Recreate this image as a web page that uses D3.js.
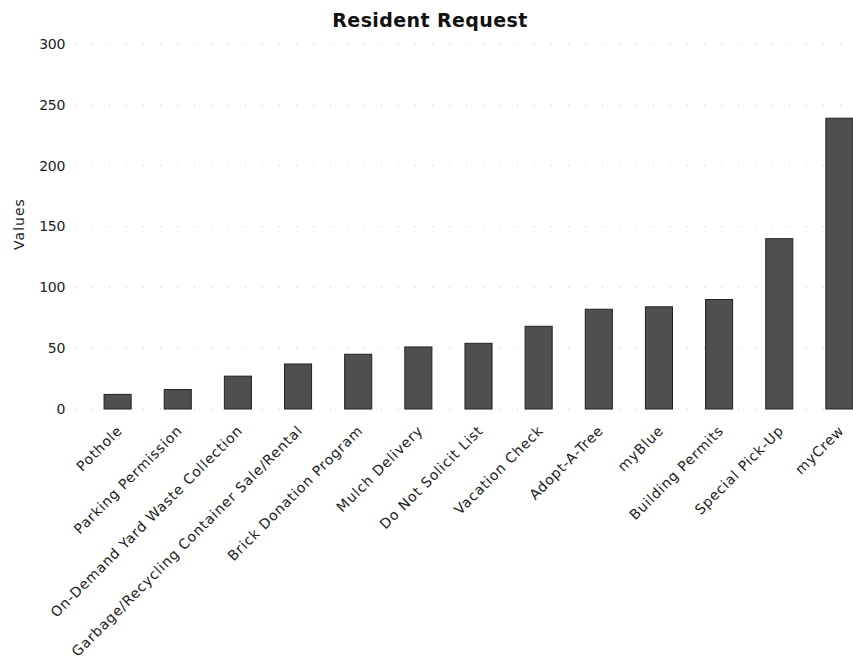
<!DOCTYPE html>
<html>
<head>
<meta charset="utf-8">
<script src="https://cdn.jsdelivr.net/npm/d3@7"></script>
<style>
  body { margin: 0; background: #fff; }
  svg { display: block; }
</style>
</head>
<body>
<svg id="chart" width="853" height="660"></svg>
<script>
const categories = ["Pothole", "Parking Permission", "On-Demand Yard Waste Collection",
  "Garbage/Recycling Container Sale/Rental", "Brick Donation Program", "Mulch Delivery",
  "Do Not Solicit List", "Vacation Check", "Adopt-A-Tree", "myBlue", "Building Permits",
  "Special Pick-Up", "myCrew"];
const values = [12, 16, 27, 37, 45, 51, 54, 68, 82, 84, 90, 140, 239];
const yTicks = [0, 50, 100, 150, 200, 250, 300];
const title = "Resident Request";
const yLabel = "Values";

const svg = d3.select("#chart");
const font = "DejaVu Sans, sans-serif";

const x = d3.scaleBand().domain(categories).range([80, 877]).paddingInner(0.55).paddingOuter(0.4);
const y = d3.scaleLinear().domain([0, 300]).range([409, 44]);

// grid
svg.append("g").selectAll("line").data(yTicks).join("line")
  .attr("x1", 75).attr("x2", 853)
  .attr("y1", d => y(d)).attr("y2", d => y(d))
  .attr("stroke", "#c8c8c8").attr("stroke-width", 1).attr("stroke-dasharray", "1 16");

// bars
svg.append("g").selectAll("rect").data(values).join("rect")
  .attr("x", (d, i) => x(categories[i]))
  .attr("width", x.bandwidth())
  .attr("y", d => y(d))
  .attr("height", d => y(0) - y(d))
  .attr("fill", "#4f4f4f")
  .attr("stroke", "#222").attr("stroke-width", 1);

// y axis
const yAxis = svg.append("g").attr("transform", "translate(68,0)")
  .call(d3.axisLeft(y).tickValues(yTicks).tickSize(0).tickPadding(3));
yAxis.select(".domain").remove();
yAxis.selectAll("text").attr("font-family", font).attr("font-size", 14)
  .attr("letter-spacing", "-0.3px").attr("fill", "#222");

// x axis labels
const xAxis = svg.append("g").attr("transform", `translate(0,${y(0)})`)
  .call(d3.axisBottom(x).tickSize(0).tickPadding(0));
xAxis.select(".domain").remove();
xAxis.selectAll("text")
  .attr("font-family", font).attr("font-size", 14).attr("fill", "#222")
  .attr("letter-spacing", "0.8px")
  .attr("text-anchor", "end")
  .attr("dy", "0.35em")
  .attr("transform", "translate(2,19) rotate(-45)");

// title
svg.append("text").attr("x", 430).attr("y", 27)
  .attr("text-anchor", "middle").attr("font-family", font)
  .attr("font-weight", "bold").attr("font-size", 19).attr("letter-spacing", "0.4px").attr("fill", "#111")
  .text(title);

// y label
svg.append("text").attr("transform", "translate(24,224) rotate(-90)")
  .attr("text-anchor", "middle").attr("font-family", font)
  .attr("font-size", 14).attr("letter-spacing", "1px").attr("fill", "#222")
  .text(yLabel);
</script>
</body>
</html>
